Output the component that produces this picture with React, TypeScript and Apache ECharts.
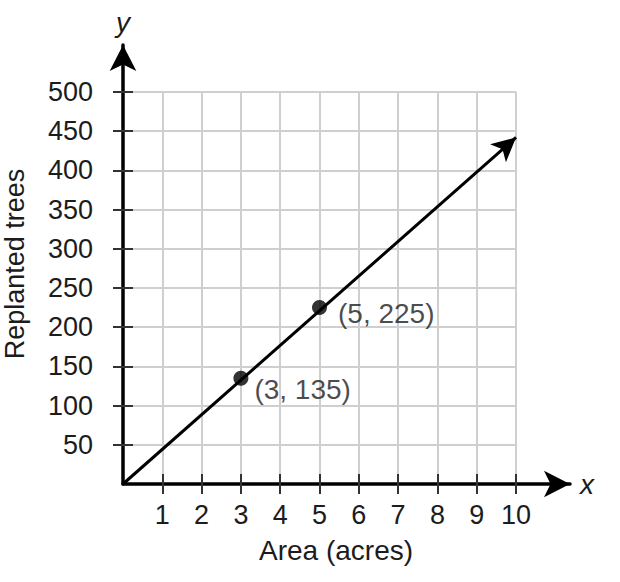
import React from 'react';
import * as echarts from 'echarts';

// axis ticks
const xTicks = [1, 2, 3, 4, 5, 6, 7, 8, 9, 10];
const yTicks = [50, 100, 150, 200, 250, 300, 350, 400, 450, 500];

// the two marked points
const pointX = [3, 5];
const pointY = [135, 225];

// the line, from the origin to its arrow tip
const lineStart = [0, 0];
const lineEnd = [10, 442];

const FONT = '"Liberation Sans", Arial, Helvetica, sans-serif';
const TEXT = '#1c1c1c';

const App = () => {
  const chartRef = React.useRef(null);

  React.useEffect(() => {
    const myChart = echarts.init(chartRef.current, null, { renderer: 'svg' });

    const tickAxis = (inside: boolean, values: number[]) => ({
      show: true,
      inside,
      length: 10,
      customValues: values,
      lineStyle: { color: '#333', width: 2 },
    });

    const option: any = {
      animation: false,
      textStyle: { fontFamily: FONT },
      grid: [
        { left: 123, right: 104, top: 92, bottom: 98 },
        // larger grid just for the arrow axes
        { left: 123, right: 50, top: 45, bottom: 98 },
      ],
      xAxis: [
        {
          type: 'value',
          gridIndex: 0,
          min: 0,
          max: 10,
          interval: 1,
          axisLine: { show: false },
          axisTick: tickAxis(false, xTicks),
          axisLabel: {
            customValues: xTicks,
            margin: 17,
            fontSize: 27,
            color: TEXT,
            fontFamily: FONT,
          },
          splitLine: { lineStyle: { color: '#cfcfcf', width: 2 } },
        },
        {
          type: 'value',
          gridIndex: 0,
          position: 'bottom',
          min: 0,
          max: 10,
          interval: 1,
          axisLine: { show: false },
          axisTick: tickAxis(true, xTicks),
          axisLabel: { show: false },
          splitLine: { show: false },
        },
        {
          type: 'value',
          gridIndex: 1,
          min: 0,
          max: 1,
          name: 'x',
          nameLocation: 'end',
          nameGap: 10,
          nameTextStyle: {
            fontSize: 28,
            fontStyle: 'italic',
            color: TEXT,
            fontFamily: FONT,
            padding: [0, 0, 4, 0],
          },
          axisLine: {
            show: true,
            symbol: ['none', 'arrow'],
            symbolSize: [20, 26],
            lineStyle: { color: '#000', width: 3.5 },
          },
          axisTick: { show: false },
          axisLabel: { show: false },
          splitLine: { show: false },
        },
      ],
      yAxis: [
        {
          type: 'value',
          gridIndex: 0,
          min: 0,
          max: 500,
          interval: 50,
          axisLine: { show: false },
          axisTick: tickAxis(false, yTicks),
          axisLabel: {
            customValues: yTicks,
            margin: 30,
            fontSize: 27,
            color: TEXT,
            fontFamily: FONT,
          },
          splitLine: { lineStyle: { color: '#cfcfcf', width: 2 } },
        },
        {
          type: 'value',
          gridIndex: 0,
          position: 'left',
          min: 0,
          max: 500,
          interval: 50,
          axisLine: { show: false },
          axisTick: tickAxis(true, yTicks),
          axisLabel: { show: false },
          splitLine: { show: false },
        },
        {
          type: 'value',
          gridIndex: 1,
          min: 0,
          max: 1,
          name: 'y',
          nameLocation: 'end',
          nameGap: 9,
          nameTextStyle: {
            fontSize: 28,
            fontStyle: 'italic',
            color: TEXT,
            fontFamily: FONT,
          },
          axisLine: {
            show: true,
            symbol: ['none', 'arrow'],
            symbolSize: [20, 26],
            lineStyle: { color: '#000', width: 3.5 },
          },
          axisTick: { show: false },
          axisLabel: { show: false },
          splitLine: { show: false },
        },
      ],
      graphic: [
        {
          type: 'text',
          x: 336,
          y: 550,
          style: {
            text: 'Area (acres)',
            fontSize: 28,
            fontFamily: FONT,
            fill: TEXT,
            align: 'center',
            verticalAlign: 'middle',
          },
        },
        {
          type: 'text',
          x: 15,
          y: 264,
          rotation: Math.PI / 2,
          style: {
            text: 'Replanted trees',
            fontSize: 27,
            fontFamily: FONT,
            fill: TEXT,
            align: 'center',
            verticalAlign: 'middle',
          },
        },
      ],
      series: [
        {
          type: 'scatter',
          xAxisIndex: 0,
          yAxisIndex: 0,
          symbolSize: 15,
          itemStyle: { color: '#000' },
          z: 5,
          data: pointX.map((x, i) => ({
            value: [x, pointY[i]],
            label: {
              show: true,
              position: 'right',
              distance: i === 0 ? 6 : 11,
              offset: i === 0 ? [0, 11] : [0, 6],
              formatter: `(${x}, ${pointY[i]})`,
              fontSize: 28,
              fontFamily: FONT,
              color: TEXT,
            },
          })),
          markLine: {
            silent: true,
            symbol: ['none', 'arrow'],
            symbolSize: [18, 24],
            label: { show: false },
            lineStyle: { color: '#000', width: 3, type: 'solid' },
            data: [[{ coord: lineStart }, { coord: lineEnd }]],
          },
        },
      ],
    };

    myChart.setOption(option);

    return () => {
      myChart.dispose();
    };
  }, []);

  return (
    <div
      ref={chartRef}
      style={{
        position: 'absolute',
        left: 0,
        top: 0,
        width: '620px',
        height: '582px',
        background: '#fff',
      }}
    />
  );
};

export default App;
